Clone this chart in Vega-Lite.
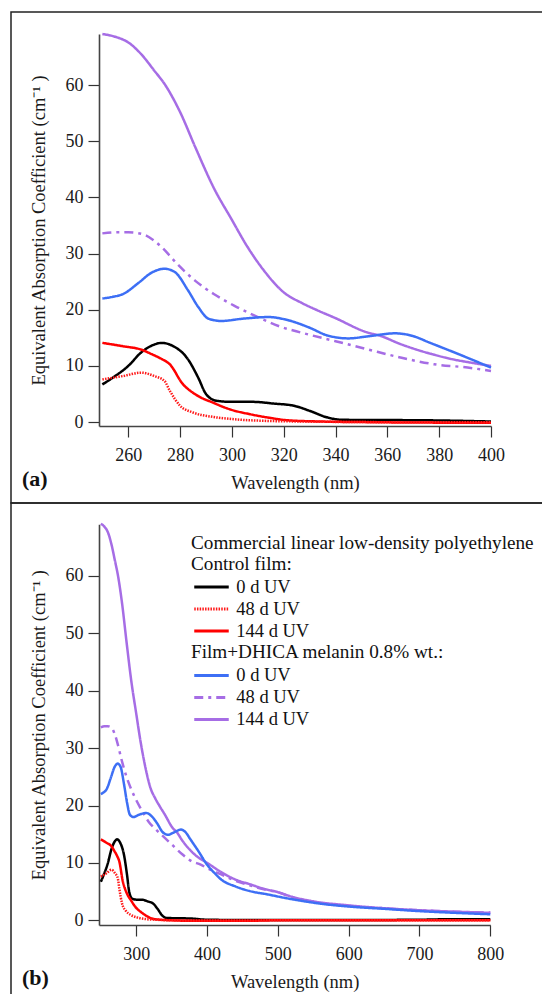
{
  "$schema": "https://vega.github.io/schema/vega-lite/v6.json",
  "padding": {"left": 10, "top": 11, "right": 0, "bottom": 0},
  "spacing": 0,
  "bounds": "flush",
  "background": "white",
  "config": {
    "view": {"stroke": "#222", "strokeWidth": 1.5},
    "axis": {
      "labelFont": "Liberation Serif", "titleFont": "Liberation Serif",
      "labelFontSize": 18, "titleFontSize": 18.5, "titleFontWeight": "normal",
      "labelColor": "#1a1a1a", "titleColor": "#1a1a1a",
      "domainColor": "#444", "tickColor": "#333", "domainWidth": 1.6, "tickWidth": 1.2,
      "grid": false, "labelFlush": false, "labelOverlap": false
    },
    "legend": {
      "labelFont": "Liberation Serif", "titleFont": "Liberation Serif",
      "labelFontSize": 18.5, "titleFontSize": 19.2, "titleFontWeight": "normal",
      "labelColor": "#111", "titleColor": "#111", "padding": 0,
      "titleLimit": 600, "labelLimit": 300
    }
  },
  "datasets": {
    "spectra": [
      {"film":"D","cond":"144 d UV","wl":250,"v":69.1},{"film":"D","cond":"144 d UV","wl":255,"v":68.6},{"film":"D","cond":"144 d UV","wl":260,"v":67.6},{"film":"D","cond":"144 d UV","wl":265,"v":65.5},{"film":"D","cond":"144 d UV","wl":270,"v":62.6},{"film":"D","cond":"144 d UV","wl":274,"v":60.2},{"film":"D","cond":"144 d UV","wl":280,"v":55.2},{"film":"D","cond":"144 d UV","wl":286,"v":48.8},{"film":"D","cond":"144 d UV","wl":293,"v":41.7},{"film":"D","cond":"144 d UV","wl":300,"v":36.0},{"film":"D","cond":"144 d UV","wl":306,"v":31.2},{"film":"D","cond":"144 d UV","wl":312,"v":27.2},{"film":"D","cond":"144 d UV","wl":320,"v":23.1},{"film":"D","cond":"144 d UV","wl":327,"v":21.2},{"film":"D","cond":"144 d UV","wl":333,"v":19.9},{"film":"D","cond":"144 d UV","wl":340,"v":18.5},{"film":"D","cond":"144 d UV","wl":352,"v":16.0},{"film":"D","cond":"144 d UV","wl":357,"v":15.4},{"film":"D","cond":"144 d UV","wl":365,"v":13.9},{"film":"D","cond":"144 d UV","wl":372,"v":12.8},{"film":"D","cond":"144 d UV","wl":378,"v":12.0},{"film":"D","cond":"144 d UV","wl":385,"v":11.2},{"film":"D","cond":"144 d UV","wl":392,"v":10.6},{"film":"D","cond":"144 d UV","wl":400,"v":10.0},{"film":"D","cond":"144 d UV","wl":420,"v":8.4},{"film":"D","cond":"144 d UV","wl":440,"v":7.1},{"film":"D","cond":"144 d UV","wl":460,"v":6.3},{"film":"D","cond":"144 d UV","wl":480,"v":5.5},{"film":"D","cond":"144 d UV","wl":500,"v":4.9},{"film":"D","cond":"144 d UV","wl":520,"v":4.1},{"film":"D","cond":"144 d UV","wl":550,"v":3.3},{"film":"D","cond":"144 d UV","wl":600,"v":2.6},{"film":"D","cond":"144 d UV","wl":650,"v":2.1},{"film":"D","cond":"144 d UV","wl":700,"v":1.75},{"film":"D","cond":"144 d UV","wl":750,"v":1.5},{"film":"D","cond":"144 d UV","wl":800,"v":1.3},

      {"film":"D","cond":"48 d UV","wl":250,"v":33.6},{"film":"D","cond":"48 d UV","wl":255,"v":33.8},{"film":"D","cond":"48 d UV","wl":260,"v":33.8},{"film":"D","cond":"48 d UV","wl":266,"v":33.4},{"film":"D","cond":"48 d UV","wl":270,"v":32.3},{"film":"D","cond":"48 d UV","wl":273,"v":31.1},{"film":"D","cond":"48 d UV","wl":279,"v":28.1},{"film":"D","cond":"48 d UV","wl":286,"v":25.1},{"film":"D","cond":"48 d UV","wl":293,"v":22.8},{"film":"D","cond":"48 d UV","wl":301,"v":20.7},{"film":"D","cond":"48 d UV","wl":309,"v":18.9},{"film":"D","cond":"48 d UV","wl":318,"v":17.1},{"film":"D","cond":"48 d UV","wl":327,"v":15.9},{"film":"D","cond":"48 d UV","wl":340,"v":14.4},{"film":"D","cond":"48 d UV","wl":352,"v":13.0},{"film":"D","cond":"48 d UV","wl":365,"v":11.5},{"film":"D","cond":"48 d UV","wl":378,"v":10.3},{"film":"D","cond":"48 d UV","wl":391,"v":9.7},{"film":"D","cond":"48 d UV","wl":400,"v":9.1},{"film":"D","cond":"48 d UV","wl":420,"v":8.0},{"film":"D","cond":"48 d UV","wl":440,"v":6.9},{"film":"D","cond":"48 d UV","wl":460,"v":6.1},{"film":"D","cond":"48 d UV","wl":480,"v":5.4},{"film":"D","cond":"48 d UV","wl":500,"v":4.9},{"film":"D","cond":"48 d UV","wl":520,"v":4.0},{"film":"D","cond":"48 d UV","wl":550,"v":3.2},{"film":"D","cond":"48 d UV","wl":600,"v":2.5},{"film":"D","cond":"48 d UV","wl":650,"v":2.1},{"film":"D","cond":"48 d UV","wl":700,"v":1.75},{"film":"D","cond":"48 d UV","wl":750,"v":1.5},{"film":"D","cond":"48 d UV","wl":800,"v":1.35},

      {"film":"D","cond":"0 d UV","wl":250,"v":22.0},{"film":"D","cond":"0 d UV","wl":254,"v":22.3},{"film":"D","cond":"0 d UV","wl":258,"v":22.8},{"film":"D","cond":"0 d UV","wl":264,"v":24.8},{"film":"D","cond":"0 d UV","wl":269,"v":26.6},{"film":"D","cond":"0 d UV","wl":274,"v":27.3},{"film":"D","cond":"0 d UV","wl":278,"v":26.7},{"film":"D","cond":"0 d UV","wl":283,"v":23.5},{"film":"D","cond":"0 d UV","wl":287,"v":20.5},{"film":"D","cond":"0 d UV","wl":291,"v":18.4},{"film":"D","cond":"0 d UV","wl":296,"v":18.0},{"film":"D","cond":"0 d UV","wl":304,"v":18.4},{"film":"D","cond":"0 d UV","wl":314,"v":18.7},{"film":"D","cond":"0 d UV","wl":322,"v":18.1},{"film":"D","cond":"0 d UV","wl":330,"v":16.8},{"film":"D","cond":"0 d UV","wl":337,"v":15.4},{"film":"D","cond":"0 d UV","wl":345,"v":14.9},{"film":"D","cond":"0 d UV","wl":353,"v":15.3},{"film":"D","cond":"0 d UV","wl":363,"v":15.8},{"film":"D","cond":"0 d UV","wl":370,"v":15.3},{"film":"D","cond":"0 d UV","wl":376,"v":14.2},{"film":"D","cond":"0 d UV","wl":388,"v":12.0},{"film":"D","cond":"0 d UV","wl":400,"v":9.7},{"film":"D","cond":"0 d UV","wl":410,"v":8.3},{"film":"D","cond":"0 d UV","wl":420,"v":7.1},{"film":"D","cond":"0 d UV","wl":440,"v":5.9},{"film":"D","cond":"0 d UV","wl":460,"v":5.1},{"film":"D","cond":"0 d UV","wl":486,"v":4.5},{"film":"D","cond":"0 d UV","wl":510,"v":3.9},{"film":"D","cond":"0 d UV","wl":533,"v":3.4},{"film":"D","cond":"0 d UV","wl":560,"v":2.9},{"film":"D","cond":"0 d UV","wl":600,"v":2.4},{"film":"D","cond":"0 d UV","wl":650,"v":2.0},{"film":"D","cond":"0 d UV","wl":700,"v":1.6},{"film":"D","cond":"0 d UV","wl":750,"v":1.3},{"film":"D","cond":"0 d UV","wl":800,"v":1.05},

      {"film":"C","cond":"0 d UV","wl":250,"v":6.7},{"film":"C","cond":"0 d UV","wl":254,"v":7.9},{"film":"C","cond":"0 d UV","wl":260,"v":10.0},{"film":"C","cond":"0 d UV","wl":265,"v":12.4},{"film":"C","cond":"0 d UV","wl":270,"v":13.8},{"film":"C","cond":"0 d UV","wl":273,"v":14.1},{"film":"C","cond":"0 d UV","wl":277,"v":13.6},{"film":"C","cond":"0 d UV","wl":283,"v":11.2},{"film":"C","cond":"0 d UV","wl":287,"v":7.9},{"film":"C","cond":"0 d UV","wl":290,"v":5.0},{"film":"C","cond":"0 d UV","wl":294,"v":3.8},{"film":"C","cond":"0 d UV","wl":300,"v":3.6},{"film":"C","cond":"0 d UV","wl":308,"v":3.6},{"film":"C","cond":"0 d UV","wl":316,"v":3.3},{"film":"C","cond":"0 d UV","wl":324,"v":2.9},{"film":"C","cond":"0 d UV","wl":330,"v":2.0},{"film":"C","cond":"0 d UV","wl":337,"v":0.8},{"film":"C","cond":"0 d UV","wl":343,"v":0.4},{"film":"C","cond":"0 d UV","wl":365,"v":0.35},{"film":"C","cond":"0 d UV","wl":378,"v":0.3},{"film":"C","cond":"0 d UV","wl":400,"v":0.1},{"film":"C","cond":"0 d UV","wl":450,"v":0.05},{"film":"C","cond":"0 d UV","wl":500,"v":0.05},{"film":"C","cond":"0 d UV","wl":600,"v":0.05},{"film":"C","cond":"0 d UV","wl":700,"v":0.1},{"film":"C","cond":"0 d UV","wl":750,"v":0.2},{"film":"C","cond":"0 d UV","wl":800,"v":0.2},

      {"film":"C","cond":"144 d UV","wl":250,"v":14.1},{"film":"C","cond":"144 d UV","wl":258,"v":13.5},{"film":"C","cond":"144 d UV","wl":265,"v":12.9},{"film":"C","cond":"144 d UV","wl":269,"v":12.1},{"film":"C","cond":"144 d UV","wl":273,"v":11.2},{"film":"C","cond":"144 d UV","wl":276,"v":10.3},{"film":"C","cond":"144 d UV","wl":281,"v":6.8},{"film":"C","cond":"144 d UV","wl":286,"v":4.9},{"film":"C","cond":"144 d UV","wl":293,"v":3.4},{"film":"C","cond":"144 d UV","wl":299,"v":2.3},{"film":"C","cond":"144 d UV","wl":307,"v":1.4},{"film":"C","cond":"144 d UV","wl":314,"v":0.8},{"film":"C","cond":"144 d UV","wl":322,"v":0.3},{"film":"C","cond":"144 d UV","wl":334,"v":0.1},{"film":"C","cond":"144 d UV","wl":350,"v":0.0},{"film":"C","cond":"144 d UV","wl":380,"v":-0.1},{"film":"C","cond":"144 d UV","wl":400,"v":-0.1},{"film":"C","cond":"144 d UV","wl":450,"v":-0.1},{"film":"C","cond":"144 d UV","wl":500,"v":0.0},{"film":"C","cond":"144 d UV","wl":600,"v":0.0},{"film":"C","cond":"144 d UV","wl":700,"v":0.0},{"film":"C","cond":"144 d UV","wl":800,"v":0.0},

      {"film":"C","cond":"48 d UV","wl":250,"v":7.6},{"film":"C","cond":"48 d UV","wl":258,"v":8.2},{"film":"C","cond":"48 d UV","wl":265,"v":8.8},{"film":"C","cond":"48 d UV","wl":270,"v":8.2},{"film":"C","cond":"48 d UV","wl":274,"v":7.3},{"film":"C","cond":"48 d UV","wl":276,"v":5.6},{"film":"C","cond":"48 d UV","wl":280,"v":2.9},{"film":"C","cond":"48 d UV","wl":285,"v":1.7},{"film":"C","cond":"48 d UV","wl":293,"v":0.9},{"film":"C","cond":"48 d UV","wl":301,"v":0.5},{"film":"C","cond":"48 d UV","wl":314,"v":0.2},{"film":"C","cond":"48 d UV","wl":327,"v":0.1},{"film":"C","cond":"48 d UV","wl":350,"v":0.0},{"film":"C","cond":"48 d UV","wl":400,"v":-0.05},{"film":"C","cond":"48 d UV","wl":450,"v":-0.05},{"film":"C","cond":"48 d UV","wl":500,"v":0.0},{"film":"C","cond":"48 d UV","wl":600,"v":0.0},{"film":"C","cond":"48 d UV","wl":800,"v":0.0}
    ]
  },
  "vconcat": [
    {
      "width": 540,
      "height": 491,
      "title": {"text": "(a)", "orient": "bottom", "anchor": "start", "frame": "group", "offset": -34, "dx": 11, "font": "Liberation Serif", "fontSize": 22, "fontWeight": "bold", "color": "#111"},
      "data": {"name": "spectra"},
      "transform": [{"filter": "datum.wl <= 400"}],
      "encoding": {
        "x": {"field": "wl", "type": "quantitative",
              "scale": {"domain": [248.7, 400], "range": [88, 480], "nice": false, "zero": false},
              "axis": {"values": [260, 280, 300, 320, 340, 360, 380, 400], "offset": -77, "title": "Wavelength (nm)", "tickSize": 11, "labelPadding": 9, "titlePadding": 9}},
        "y": {"field": "v", "type": "quantitative",
              "scale": {"domain": [-0.7, 69.1], "range": [414, 22], "nice": false, "zero": false},
              "axis": {"values": [0, 10, 20, 30, 40, 50, 60], "offset": -88, "title": "Equivalent Absorption Coefficient (cm\u207b\u00b9 )", "tickSize": 11, "labelPadding": 5, "titlePadding": 17}}
      },
      "layer": [
        {
          "transform": [{"filter": "datum.film === 'C'"}],
          "mark": {"type": "line", "strokeWidth": 2.5, "interpolate": "monotone"},
          "encoding": {
            "color": {"field": "cond", "type": "nominal", "scale": {"domain": ["0 d UV", "48 d UV", "144 d UV"], "range": ["#000000", "#ff1a1a", "#ff0000"]}, "legend": null},
            "strokeDash": {"field": "cond", "type": "nominal", "scale": {"domain": ["0 d UV", "48 d UV", "144 d UV"], "range": [[1, 0], [1.5, 1.2], [1, 0]]}, "legend": null}
          }
        },
        {
          "transform": [{"filter": "datum.film === 'D'"}],
          "mark": {"type": "line", "strokeWidth": 2.5, "interpolate": "monotone"},
          "encoding": {
            "color": {"field": "cond", "type": "nominal", "scale": {"domain": ["0 d UV", "48 d UV", "144 d UV"], "range": ["#3d6ff5", "#a66de5", "#a66de5"]}, "legend": null},
            "strokeDash": {"field": "cond", "type": "nominal", "scale": {"domain": ["0 d UV", "48 d UV", "144 d UV"], "range": [[1, 0], [9, 5, 3, 5], [1, 0]]}, "legend": null}
          }
        }
      ],
      "resolve": {"scale": {"color": "independent", "strokeDash": "independent"}}
    },
    {
      "width": 540,
      "height": 500,
      "title": {"text": "(b)", "orient": "bottom", "anchor": "start", "frame": "group", "offset": -35, "dx": 11, "font": "Liberation Serif", "fontSize": 22, "fontWeight": "bold", "color": "#111"},
      "data": {"name": "spectra"},
      "encoding": {
        "x": {"field": "wl", "type": "quantitative",
              "scale": {"domain": [247.4, 800], "range": [88, 479.3], "nice": false, "zero": false},
              "axis": {"values": [300, 400, 500, 600, 700, 800], "offset": -78, "title": "Wavelength (nm)", "tickSize": 11, "labelPadding": 9, "titlePadding": 9}},
        "y": {"field": "v", "type": "quantitative",
              "scale": {"domain": [-0.82, 69.0], "range": [422, 21.3], "nice": false, "zero": false},
              "axis": {"values": [0, 10, 20, 30, 40, 50, 60], "offset": -88, "title": "Equivalent Absorption Coefficient (cm\u207b\u00b9 )", "tickSize": 11, "labelPadding": 5, "titlePadding": 17}}
      },
      "layer": [
        {
          "transform": [{"filter": "datum.film === 'C'"}],
          "mark": {"type": "line", "strokeWidth": 2.5, "interpolate": "monotone"},
          "encoding": {
            "color": {"field": "cond", "type": "nominal", "scale": {"domain": ["0 d UV", "48 d UV", "144 d UV"], "range": ["#000000", "#ff1a1a", "#ff0000"]},
                      "legend": {"title": ["Commercial linear low-density polyethylene", "Control film:"], "orient": "none", "legendX": 180, "legendY": 31, "symbolType": "M-2.3,0H2.3", "symbolSize": 225, "symbolStrokeWidth": 3, "symbolOffset": 11.25, "labelOffset": 15.5, "rowPadding": 3, "titleLineHeight": 20.5, "titlePadding": 4}},
            "strokeDash": {"field": "cond", "type": "nominal", "scale": {"domain": ["0 d UV", "48 d UV", "144 d UV"], "range": [[1, 0], [1.5, 1.2], [1, 0]]},
                      "legend": {"title": ["Commercial linear low-density polyethylene", "Control film:"], "orient": "none", "legendX": 180, "legendY": 31, "symbolType": "M-2.3,0H2.3", "symbolSize": 225, "symbolStrokeWidth": 3, "symbolOffset": 11.25, "labelOffset": 15.5, "rowPadding": 3, "titleLineHeight": 20.5, "titlePadding": 4}}
          }
        },
        {
          "transform": [{"filter": "datum.film === 'D'"}],
          "mark": {"type": "line", "strokeWidth": 2.5, "interpolate": "monotone"},
          "encoding": {
            "color": {"field": "cond", "type": "nominal", "scale": {"domain": ["0 d UV", "48 d UV", "144 d UV"], "range": ["#3d6ff5", "#a66de5", "#a66de5"]},
                      "legend": {"title": "Film+DHICA melanin 0.8% wt.:", "orient": "none", "legendX": 180, "legendY": 140, "symbolType": "M-2.3,0H2.3", "symbolSize": 225, "symbolStrokeWidth": 3, "symbolOffset": 11.25, "labelOffset": 15.5, "rowPadding": 3, "titlePadding": 4}},
            "strokeDash": {"field": "cond", "type": "nominal", "scale": {"domain": ["0 d UV", "48 d UV", "144 d UV"], "range": [[1, 0], [9, 5, 3, 5], [1, 0]]},
                      "legend": {"title": "Film+DHICA melanin 0.8% wt.:", "orient": "none", "legendX": 180, "legendY": 140, "symbolType": "M-2.3,0H2.3", "symbolSize": 225, "symbolStrokeWidth": 3, "symbolOffset": 11.25, "labelOffset": 15.5, "rowPadding": 3, "titlePadding": 4}}
          }
        }
      ],
      "resolve": {"scale": {"color": "independent", "strokeDash": "independent"}}
    }
  ],
  "resolve": {"scale": {"x": "independent", "y": "independent", "color": "independent", "strokeDash": "independent"}}
}
